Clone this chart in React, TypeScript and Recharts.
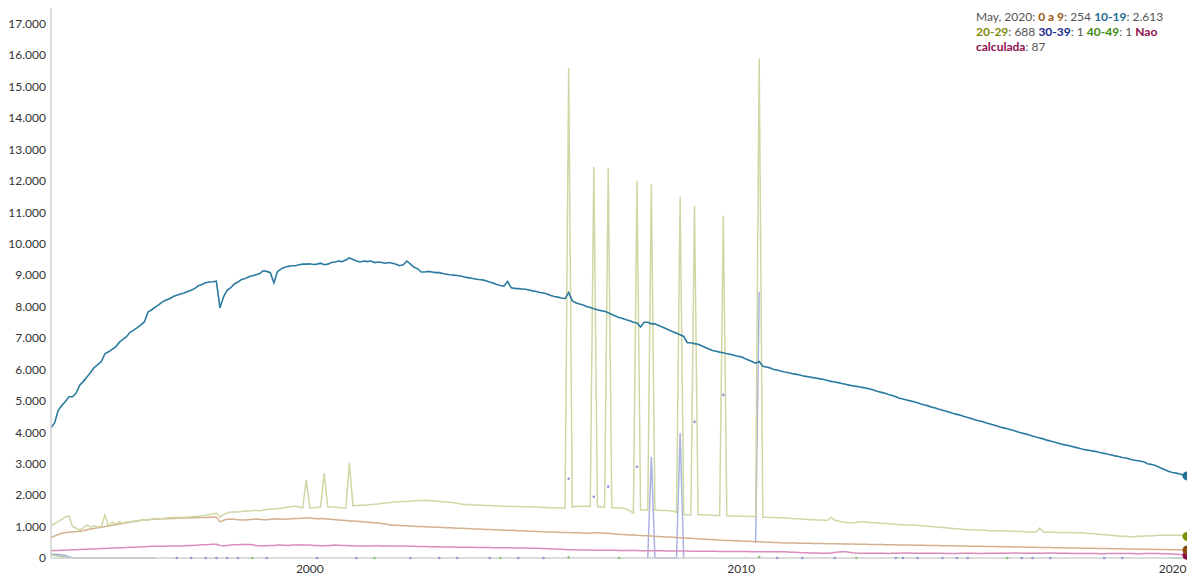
import React from 'react';
import { ComposedChart, Line, XAxis, YAxis } from 'recharts';

// ---------- categories ----------
const START_YEAR = 1994;
const MONTH_COUNT = 317; // 1994-01 .. 2020-05
const months: string[] = Array.from({ length: MONTH_COUNT }, (_, i) =>
  `${START_YEAR + Math.floor(i / 12)}-${String((i % 12) + 1).padStart(2, '0')}`
);
const xTickLabels = ['2000', '2010', '2020'];
const yTicks = [0, 1000, 2000, 3000, 4000, 5000, 6000, 7000, 8000, 9000, 10000, 11000, 12000, 13000, 14000, 15000, 16000, 17000];

// ---------- series (monthly) ----------
const age0to9 = [
  640, 700, 750, 790, 800, 820, 830, 840, 850, 870, 900, 920,
  940, 960, 980, 1000, 1020, 1040, 1060, 1080, 1100, 1120, 1140, 1160,
  1180, 1200, 1210, 1220, 1230, 1235, 1240, 1245, 1250, 1255, 1260, 1265,
  1270, 1270, 1275, 1280, 1280, 1285, 1290, 1290, 1295, 1300, 1300, 1150,
  1200, 1230, 1240, 1230, 1220, 1210, 1210, 1220, 1230, 1240, 1230, 1220,
  1220, 1230, 1240, 1250, 1240, 1230, 1240, 1250, 1260, 1260, 1270, 1270,
  1270, 1260, 1250, 1260, 1250, 1240, 1230, 1220, 1210, 1200, 1190, 1180,
  1180, 1170, 1160, 1150, 1140, 1130, 1120, 1110, 1100, 1080, 1060, 1040,
  1040, 1035, 1030, 1025, 1020, 1010, 1005, 1000, 995, 990, 985, 980,
  975, 970, 965, 960, 955, 950, 945, 940, 935, 930, 925, 920,
  915, 910, 905, 900, 895, 890, 885, 880, 875, 880, 870, 865,
  860, 855, 850, 845, 840, 835, 830, 830, 825, 820, 815, 810,
  810, 805, 800, 800, 795, 790, 790, 800, 800, 795, 790, 785,
  775, 765, 755, 745, 740, 735, 730, 720, 715, 710, 705, 700,
  690, 685, 680, 670, 665, 660, 650, 645, 640, 630, 625, 620,
  610, 600, 595, 590, 585, 580, 570, 565, 560, 555, 550, 545,
  540, 535, 530, 525, 520, 515, 510, 505, 500, 495, 490, 485,
  480, 478, 476, 474, 472, 470, 468, 466, 464, 462, 460, 458,
  456, 454, 452, 450, 448, 446, 444, 442, 440, 438, 436, 434,
  432, 430, 428, 426, 424, 422, 420, 418, 416, 414, 412, 410,
  408, 406, 404, 402, 400, 398, 396, 394, 392, 390, 388, 386,
  384, 382, 380, 378, 376, 374, 372, 370, 368, 366, 364, 362,
  360, 358, 356, 354, 352, 350, 348, 346, 344, 342, 340, 338,
  336, 334, 332, 330, 328, 326, 324, 322, 320, 318, 316, 314,
  312, 310, 308, 306, 304, 302, 300, 298, 296, 294, 292, 290,
  288, 286, 284, 282, 280, 278, 276, 274, 272, 270, 268, 266,
  264, 262, 260, 257, 254,
];

const age10to19 = [
  4140, 4300, 4700, 4850, 4980, 5130, 5130, 5250, 5500, 5620, 5760, 5900,
  6060, 6150, 6250, 6500, 6560, 6640, 6720, 6860, 6960, 7040, 7180, 7250,
  7330, 7420, 7520, 7830, 7900, 7980, 8060, 8150, 8210, 8250, 8320, 8360,
  8400, 8430, 8480, 8520, 8580, 8660, 8700, 8760, 8780, 8790, 8810, 7960,
  8310, 8520, 8600, 8720, 8780, 8860, 8890, 8950, 8980, 9010, 9040, 9140,
  9120, 9080, 8760, 9110, 9200, 9250, 9280, 9300, 9300, 9330, 9350, 9350,
  9360, 9340, 9350, 9380, 9330, 9350, 9400, 9420, 9450, 9430, 9480, 9550,
  9500, 9450, 9420, 9450, 9430, 9450, 9400, 9420, 9400, 9380, 9400, 9380,
  9350, 9300, 9330, 9450, 9350, 9250, 9200, 9100, 9100, 9120, 9100, 9080,
  9080, 9050, 9030, 9010, 9000, 8990, 8970, 8940, 8920, 8900, 8880, 8860,
  8850, 8820, 8780, 8750, 8700, 8670, 8650, 8800, 8600, 8580, 8570, 8560,
  8550, 8530, 8500, 8480, 8450, 8430, 8400, 8350, 8320, 8300, 8270, 8250,
  8450, 8180, 8120, 8080, 8050, 8000, 7970, 7930, 7900, 7870, 7850, 7800,
  7750, 7700, 7650, 7620, 7580, 7550, 7500, 7480, 7350, 7500, 7500, 7450,
  7450, 7400, 7350, 7300, 7250, 7200, 7150, 7100, 7050, 6850, 6850, 6820,
  6800, 6750, 6700, 6650, 6600, 6580, 6550, 6530, 6500, 6480, 6450, 6420,
  6400, 6350, 6300, 6250, 6200, 6250, 6100, 6080, 6050, 6000, 5980, 5950,
  5920, 5900, 5870, 5850, 5830, 5800, 5780, 5760, 5740, 5720, 5700, 5680,
  5650, 5620, 5600, 5580, 5550, 5530, 5500, 5480, 5460, 5440, 5420, 5400,
  5370, 5340, 5300, 5270, 5240, 5200, 5170, 5130, 5080, 5060, 5030, 5000,
  4970, 4940, 4900, 4870, 4840, 4800, 4770, 4730, 4700, 4670, 4640, 4600,
  4570, 4540, 4500, 4470, 4440, 4400, 4370, 4340, 4300, 4270, 4240, 4210,
  4170, 4140, 4110, 4080, 4050, 4010, 3980, 3950, 3920, 3880, 3850, 3820,
  3790, 3750, 3720, 3690, 3660, 3630, 3600, 3580, 3550, 3520, 3490, 3460,
  3440, 3420, 3400, 3380, 3350, 3330, 3300, 3280, 3250, 3230, 3200, 3180,
  3150, 3120, 3100, 3080, 3060, 3000, 2980, 2950, 2900, 2850, 2800, 2750,
  2720, 2700, 2670, 2640, 2613,
];

const age20to29 = [
  1020, 1090, 1160, 1230, 1300, 1340, 1000, 950, 890, 960, 1050, 990,
  1020, 990, 1000, 1370, 1020, 1150, 1080, 1150, 1100, 1150, 1140, 1180,
  1180, 1200, 1220, 1210, 1230, 1250, 1260, 1250, 1270, 1280, 1290, 1290,
  1290, 1300, 1300, 1310, 1320, 1330, 1340, 1360, 1380, 1400, 1430, 1300,
  1380, 1430, 1460, 1470, 1460, 1480, 1500, 1490, 1510, 1520, 1500, 1530,
  1540, 1550, 1560, 1570, 1580, 1600, 1620, 1640, 1650, 1620, 1590, 2480,
  1590, 1600, 1610, 1620, 2700, 1620, 1620, 1620, 1610, 1600, 1590, 3020,
  1660, 1670, 1680, 1680, 1690, 1700, 1710, 1720, 1740, 1750, 1760, 1780,
  1780, 1790, 1800, 1800, 1810, 1820, 1830, 1830, 1840, 1830, 1820, 1810,
  1800, 1790, 1780, 1770, 1760, 1740, 1720, 1700, 1700, 1690, 1690, 1680,
  1680, 1670, 1670, 1660, 1660, 1650, 1650, 1650, 1640, 1640, 1640, 1630,
  1630, 1630, 1620, 1620, 1620, 1610, 1610, 1600, 1600, 1600, 1590, 1590,
  15600, 1620, 1640, 1650, 1650, 1650, 1640, 12450, 1630, 1630, 1620, 12400,
  1600, 1600, 1590, 1580, 1560, 1500, 1430, 12000, 1530, 1530, 1520, 11900,
  1520, 1520, 1510, 1510, 1500, 1490, 1450, 11500, 1380, 1380, 1370, 11200,
  1380, 1380, 1370, 1370, 1360, 1350, 1350, 10900, 1350, 1340, 1340, 1330,
  1330, 1330, 1320, 1320, 1320, 15900, 1300, 1300, 1290, 1290, 1280, 1280,
  1280, 1270, 1260, 1250, 1250, 1240, 1230, 1220, 1220, 1210, 1210, 1200,
  1200, 1300, 1200, 1180, 1150, 1130, 1120, 1120, 1130, 1150, 1150, 1140,
  1130, 1120, 1110, 1100, 1100, 1090, 1080, 1070, 1060, 1060, 1050, 1050,
  1050, 1040, 1030, 1020, 1010, 1000, 990, 980, 970, 960, 950, 940,
  930, 920, 910, 900, 900, 890, 890, 880, 880, 870, 870, 860,
  870, 860, 860, 850, 850, 840, 840, 830, 830, 830, 820, 950,
  830, 820, 820, 820, 815, 815, 810, 810, 810, 805, 800, 800,
  790, 780, 770, 760, 750, 740, 730, 720, 710, 700, 690, 690,
  680, 680, 690, 690, 700, 700, 710, 710, 720, 720, 720, 720,
  720, 720, 720, 720, 688,
];

const naoCalculada = [
  230, 235, 240, 245, 250, 255, 260, 265, 270, 275, 280, 285,
  290, 295, 300, 305, 310, 315, 320, 325, 330, 335, 340, 345,
  350, 355, 360, 365, 370, 370, 375, 375, 380, 380, 380, 385,
  385, 390, 395, 400, 405, 410, 420, 425, 430, 440, 435, 400,
  390, 400, 410, 420, 420, 430, 430, 430, 420, 400, 390, 380,
  390, 400, 400, 410, 410, 405, 400, 410, 410, 420, 415, 410,
  410, 400, 395, 390, 390, 395, 400, 410, 405, 400, 395, 390,
  390, 385, 385, 380, 380, 385, 390, 390, 385, 380, 385, 380,
  380, 375, 380, 378, 372, 370, 368, 365, 365, 360, 358, 355,
  355, 352, 350, 350, 348, 345, 345, 342, 340, 340, 338, 336,
  335, 333, 332, 330, 330, 328, 326, 325, 324, 322, 320, 318,
  316, 314, 312, 310, 305, 300, 295, 290, 285, 280, 275, 270,
  265, 262, 260, 258, 255, 255, 252, 250, 250, 248, 248, 246,
  245, 244, 242, 240, 240, 238, 236, 235, 234, 232, 232, 230,
  230, 228, 228, 226, 225, 224, 222, 222, 220, 220, 218, 218,
  216, 215, 214, 214, 212, 212, 210, 210, 208, 208, 206, 205,
  205, 204, 203, 202, 201, 200, 200, 199, 198, 198, 197, 196,
  195, 190, 185, 180, 175, 170, 165, 160, 158, 156, 155, 152,
  150, 160, 175, 190, 200, 195, 185, 170, 160, 155, 150, 150,
  148, 150, 152, 150, 148, 146, 150, 152, 155, 158, 160, 158,
  155, 152, 150, 150, 148, 150, 152, 150, 148, 146, 145, 145,
  146, 148, 150, 152, 150, 148, 146, 145, 148, 150, 152, 150,
  150, 152, 155, 158, 160, 158, 155, 152, 150, 148, 150, 152,
  155, 158, 160, 158, 155, 152, 150, 148, 146, 145, 144, 143,
  142, 140, 140, 140, 138, 138, 140, 142, 142, 140, 140, 140,
  140, 140, 138, 138, 140, 142, 142, 140, 140, 138, 138, 136,
  130, 120, 110, 100, 87,
];

// sparse series: 1994-01 .. 1996-06 dense start, then isolated points
const age30to39Early = [
  130, 120, 110, 100, 80, 40, 10, 5, 3, 2, 2, 1,
  1, 1, 2, 1, 1, 1, 1, 1, 2, 1, 1, 1,
  1, 1, 1, 1, 1, 1,
];
const age30to39Later: [string, number][] = [
  ['1996-12', 1], ['1997-04', 1], ['1997-08', 1], ['1997-11', 1], ['1998-02', 1], ['1998-05', 1],
  ['1999-01', 1], ['2000-03', 1], ['2001-02', 1], ['2002-05', 1], ['2003-01', 1], ['2003-06', 1],
  ['2004-03', 1], ['2004-11', 1], ['2005-06', 1],
  ['2006-01', 2520], ['2006-08', 1950], ['2006-12', 2270], ['2007-08', 2900],
  ['2007-11', 0], ['2007-12', 3220], ['2008-01', 0], ['2008-02', 0], ['2008-03', 0], ['2008-04', 0],
  ['2008-05', 0], ['2008-06', 0], ['2008-07', 0], ['2008-08', 3980], ['2008-09', 0],
  ['2008-12', 4330], ['2009-08', 5190], ['2010-05', 480], ['2010-06', 8470],
  ['2010-11', 1], ['2011-06', 1], ['2012-03', 1], ['2013-08', 1], ['2013-10', 1], ['2014-02', 1],
  ['2014-09', 1], ['2015-01', 1], ['2015-04', 1], ['2016-07', 1], ['2016-10', 1], ['2017-03', 1],
  ['2018-06', 1], ['2018-11', 1], ['2020-04', 1], ['2020-05', 1],
];
const age40to49Early = [
  100, 90, 70, 50, 30, 15, 5, 3, 2, 1, 1, 1,
  1, 1, 1, 1, 1, 1, 1, 1, 1, 1, 1, 1,
  1, 1, 1, 1, 1, 1,
];
const age40to49Later: [string, number][] = [
  ['1998-09', 1], ['2001-07', 1], ['2004-06', 1], ['2006-01', 20], ['2007-03', 1],
  ['2010-06', 30], ['2012-09', 1], ['2016-03', 1],
  ['2019-12', 1], ['2020-01', 1], ['2020-02', 1], ['2020-03', 1], ['2020-04', 1], ['2020-05', 1],
];

// ---------- table ----------
const sparse = (early: number[], later: [string, number][]) => {
  const m: Record<string, number> = {};
  early.forEach((v, i) => { m[months[i]] = v; });
  later.forEach(([k, v]) => { m[k] = v; });
  return m;
};
const s30 = sparse(age30to39Early, age30to39Later);
const s40 = sparse(age40to49Early, age40to49Later);

type Row = { t: number; a0: number; a10: number; a20: number; a30: number | null; a40: number | null; nao: number };
const rows: Row[] = months.map((m, i) => ({
  t: i,
  a0: age0to9[i],
  a10: age10to19[i],
  a20: age20to29[i],
  a30: s30[m] ?? null,
  a40: s40[m] ?? null,
  nao: naoCalculada[i],
}));

const fmt = (v: number) => String(v).replace(/\B(?=(\d{3})+(?!\d))/g, '.');

const FONT = 'Lato, "Open Sans", sans-serif';

const makeDot = (key: keyof Row, color: string, endColor?: string) => (props: any) => {
  const { cx, cy, index } = props;
  const k = `${String(key)}-${index}`;
  const val = rows[index] ? rows[index][key] : null;
  if (cx == null || cy == null || val == null) return <g key={k} />;
  if (endColor && index === rows.length - 1) {
    const r = 4.5;
    return <path key={k} d={`M${cx},${cy - r} A${r},${r} 0 0 0 ${cx},${cy + r} Z`} fill={endColor} />;
  }
  const prev = index > 0 ? rows[index - 1][key] : null;
  const next = index < rows.length - 1 ? rows[index + 1][key] : null;
  if (prev == null && next == null) return <circle key={k} cx={cx} cy={cy} r={1.3} fill={color} />;
  return <g key={k} />;
};

const last = rows[rows.length - 1];
const lastLabel = 'May, 2020';

export default function App() {
  return (
    <div style={{ position: 'absolute', left: 0, top: 0, width: 1200, height: 576, background: '#fff', fontFamily: FONT }}>
      <ComposedChart width={1200} height={576} data={rows} margin={{ top: 8, right: 13, bottom: 0, left: 0 }}>
        <XAxis
          dataKey="t"
          type="number"
          domain={[0, MONTH_COUNT - 1]}
          ticks={xTickLabels.map((y) => months.indexOf(`${y}-01`))}
          tickFormatter={(v: number) => months[v].slice(0, 4)}
          axisLine={{ stroke: '#d0d0d0', strokeWidth: 1.5 }}
          tickLine={false}
          tickSize={0}
          tickMargin={6}
          height={18}
          tick={{ fill: '#333', fontSize: 12, fontFamily: FONT }}
          interval={0}
        />
        <YAxis
          domain={[0, 17500]}
          ticks={yTicks}
          tickFormatter={fmt}
          axisLine={{ stroke: '#d0d0d0', strokeWidth: 1.5 }}
          tickLine={false}
          tickSize={0}
          tickMargin={5}
          width={51}
          tick={{ fill: '#333', fontSize: 12, fontFamily: FONT }}
          interval={0}
        />
        <Line dataKey="a30" stroke="#aab2e2" strokeWidth={1.5} dot={makeDot('a30', '#8f98d8')} activeDot={false} isAnimationActive={false} connectNulls={false} />
        <Line dataKey="a40" stroke="#a8c89a" strokeWidth={1.5} dot={makeDot('a40', '#8fbf7a')} activeDot={false} isAnimationActive={false} connectNulls={false} />
        <Line dataKey="nao" stroke="#d98cbb" strokeWidth={1.5} dot={makeDot('nao', '#d98cbb', '#8e0e4e')} activeDot={false} isAnimationActive={false} />
        <Line dataKey="a0" stroke="#d4b08e" strokeWidth={1.5} dot={makeDot('a0', '#d4b08e', '#8a4b10')} activeDot={false} isAnimationActive={false} />
        <Line dataKey="a20" stroke="#cfd8a4" strokeWidth={1.5} dot={makeDot('a20', '#cfd8a4', '#7f8f00')} activeDot={false} isAnimationActive={false} />
        <Line dataKey="a10" stroke="#2b7aa0" strokeWidth={1.6} dot={makeDot('a10', '#2b7aa0', '#1f6f9a')} activeDot={false} isAnimationActive={false} />
      </ComposedChart>
      <div style={{ position: 'absolute', left: 976, top: 9, fontSize: 12, lineHeight: '15px', color: '#555', whiteSpace: 'nowrap' }}>
        <div>
          {lastLabel}: <b style={{ color: '#9b5a12' }}>0 a 9</b>: {fmt(last.a0)}{' '}
          <b style={{ color: '#1e6d94' }}>10-19</b>: {fmt(last.a10)}
        </div>
        <div>
          <b style={{ color: '#7b8c0a' }}>20-29</b>: {fmt(last.a20)}{' '}
          <b style={{ color: '#1c2a8c' }}>30-39</b>: {fmt(last.a30 ?? 0)}{' '}
          <b style={{ color: '#3d8c12' }}>40-49</b>: {fmt(last.a40 ?? 0)}{' '}
          <b style={{ color: '#8e0e4e' }}>Nao</b>
        </div>
        <div>
          <b style={{ color: '#8e0e4e' }}>calculada</b>: {fmt(last.nao)}
        </div>
      </div>
    </div>
  );
}
